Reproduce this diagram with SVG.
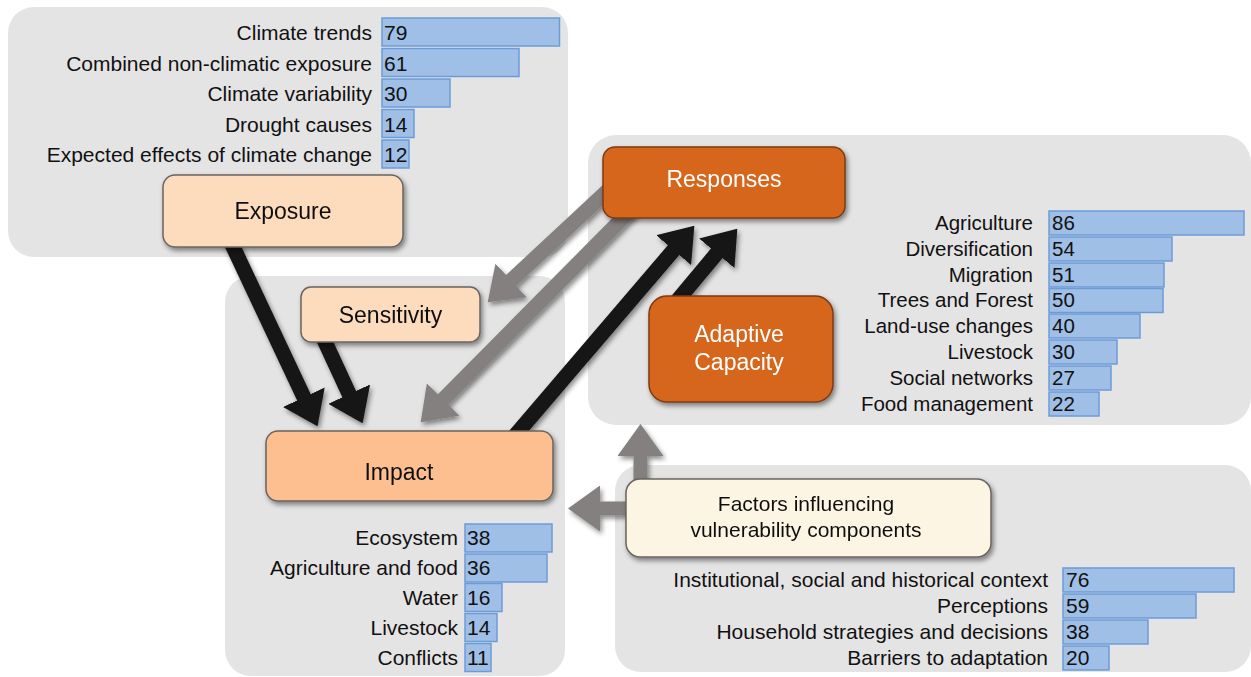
<svg xmlns="http://www.w3.org/2000/svg" width="1251" height="677" viewBox="0 0 1251 677">
<defs>
<style>
.panel{fill:#e5e4e5}
.bar{fill:#a0bfe6;stroke:#6c9cd8;stroke-width:1.5}
.lbl{font-family:"Liberation Sans",Arial,sans-serif;font-size:21px;fill:#111;text-anchor:end}
.lbl20{font-family:"Liberation Sans",Arial,sans-serif;font-size:20.5px;fill:#111;text-anchor:end}
.num{font-family:"Liberation Sans",Arial,sans-serif;font-size:21px;fill:#111}
.num20{font-family:"Liberation Sans",Arial,sans-serif;font-size:20.5px;fill:#111}
.node{stroke:#6a6460;stroke-width:1.5}
.light{fill:#fddbbd}
.impact{fill:#fdbf8f}
.dark{fill:#d6661d;stroke:#7c3b12}
.cream{fill:#fdf5e3}
.nt{font-family:"Liberation Sans",Arial,sans-serif;font-size:23px;fill:#111;text-anchor:middle}
.ntw{font-family:"Liberation Sans",Arial,sans-serif;font-size:23px;fill:#fff;text-anchor:middle}
.nt21{font-family:"Liberation Sans",Arial,sans-serif;font-size:21px;fill:#111;text-anchor:middle}
.blk{stroke:#141414;stroke-width:15;fill:none;marker-end:url(#hb)}
.gry{stroke:#858080;stroke-width:15;fill:none;marker-end:url(#hg)}
</style>
<marker id="hb" markerUnits="userSpaceOnUse" viewBox="0 0 32 46" markerWidth="32" markerHeight="46" refX="1" refY="23" orient="auto"><path d="M0,0 L32,23 L0,46 z" fill="#141414"/></marker>
<marker id="hg" markerUnits="userSpaceOnUse" viewBox="0 0 32 46" markerWidth="32" markerHeight="46" refX="1" refY="23" orient="auto"><path d="M0,0 L32,23 L0,46 z" fill="#858080"/></marker>
<filter id="sh" x="-20%" y="-20%" width="140%" height="140%"><feDropShadow dx="2" dy="3" stdDeviation="2.5" flood-color="#000" flood-opacity="0.45"/></filter>
</defs>
<rect width="1251" height="677" fill="#fff"/>

<g id="panels">
<rect class="panel" x="8" y="7" width="560" height="250" rx="26"/>
<rect class="panel" x="225" y="276" width="340" height="400" rx="26"/>
<rect class="panel" x="588" y="135" width="663" height="290" rx="28"/>
<rect class="panel" x="615" y="465" width="636" height="207" rx="26"/>
</g>

<g id="exposure-list">
<rect class="bar" x="382" y="18" width="177.5" height="28"/>
<rect class="bar" x="382" y="48.5" width="137" height="28"/>
<rect class="bar" x="382" y="79" width="68" height="28"/>
<rect class="bar" x="382" y="109.5" width="32" height="28"/>
<rect class="bar" x="382" y="140" width="27" height="28"/>
<text class="lbl" x="372" y="40">Climate trends</text>
<text class="lbl" x="372" y="70.5">Combined non-climatic exposure</text>
<text class="lbl" x="372" y="101">Climate variability</text>
<text class="lbl" x="372" y="131.5">Drought causes</text>
<text class="lbl" x="372" y="162">Expected effects of climate change</text>
<text class="num" x="384" y="40">79</text>
<text class="num" x="384" y="70.5">61</text>
<text class="num" x="384" y="101">30</text>
<text class="num" x="384" y="131.5">14</text>
<text class="num" x="384" y="162">12</text>
</g>

<g id="responses-list">
<rect class="bar" x="1049" y="211" width="195" height="24"/>
<rect class="bar" x="1049" y="237" width="123" height="24"/>
<rect class="bar" x="1049" y="263" width="115" height="24"/>
<rect class="bar" x="1049" y="288.5" width="114" height="24"/>
<rect class="bar" x="1049" y="314" width="91" height="24"/>
<rect class="bar" x="1049" y="340" width="68" height="24"/>
<rect class="bar" x="1049" y="366" width="62" height="24"/>
<rect class="bar" x="1049" y="392" width="50" height="24"/>
<text class="lbl20" x="1033" y="229.5">Agriculture</text>
<text class="lbl20" x="1033" y="255.5">Diversification</text>
<text class="lbl20" x="1033" y="281.5">Migration</text>
<text class="lbl20" x="1033" y="307">Trees and Forest</text>
<text class="lbl20" x="1033" y="332.5">Land-use changes</text>
<text class="lbl20" x="1033" y="358.5">Livestock</text>
<text class="lbl20" x="1033" y="384.5">Social networks</text>
<text class="lbl20" x="1033" y="410.5">Food management</text>
<text class="num20" x="1052" y="229.5">86</text>
<text class="num20" x="1052" y="255.5">54</text>
<text class="num20" x="1052" y="281.5">51</text>
<text class="num20" x="1052" y="307">50</text>
<text class="num20" x="1052" y="332.5">40</text>
<text class="num20" x="1052" y="358.5">30</text>
<text class="num20" x="1052" y="384.5">27</text>
<text class="num20" x="1052" y="410.5">22</text>
</g>

<g id="impact-list">
<rect class="bar" x="465" y="524" width="87" height="28"/>
<rect class="bar" x="465" y="554" width="82" height="28"/>
<rect class="bar" x="465" y="583.5" width="37" height="28"/>
<rect class="bar" x="465" y="613.5" width="32" height="28"/>
<rect class="bar" x="465" y="643.5" width="26" height="28"/>
<text class="lbl" x="458" y="545">Ecosystem</text>
<text class="lbl" x="458" y="575">Agriculture and food</text>
<text class="lbl" x="458" y="604.5">Water</text>
<text class="lbl" x="458" y="634.5">Livestock</text>
<text class="lbl" x="458" y="664.5">Conflicts</text>
<text class="num" x="467" y="545">38</text>
<text class="num" x="467" y="575">36</text>
<text class="num" x="467" y="604.5">16</text>
<text class="num" x="467" y="634.5">14</text>
<text class="num" x="467" y="664.5">11</text>
</g>

<g id="factors-list">
<rect class="bar" x="1063" y="568" width="171" height="24"/>
<rect class="bar" x="1063" y="594" width="133" height="24"/>
<rect class="bar" x="1063" y="620" width="85" height="24"/>
<rect class="bar" x="1063" y="646" width="46" height="24"/>
<text class="lbl" x="1048" y="587">Institutional, social and historical context</text>
<text class="lbl" x="1048" y="613">Perceptions</text>
<text class="lbl" x="1048" y="639">Household strategies and decisions</text>
<text class="lbl" x="1048" y="665">Barriers to adaptation</text>
<text class="num" x="1066" y="587">76</text>
<text class="num" x="1066" y="613">59</text>
<text class="num" x="1066" y="639">38</text>
<text class="num" x="1066" y="665">20</text>
</g>

<g id="connectors" filter="url(#sh)">
<line class="blk" x1="228" y1="236" x2="304.3" y2="398.1"/>
<line class="blk" x1="320" y1="331" x2="349.6" y2="395"/>
<line class="gry" x1="613" y1="185.8" x2="510.4" y2="281.2"/>
<line class="gry" x1="631.4" y1="209.5" x2="442.5" y2="400.3"/>
<line class="blk" x1="512.8" y1="438.1" x2="674.2" y2="249.3"/>
<line class="blk" x1="674.6" y1="303.7" x2="717.4" y2="252.5"/>
<line class="gry" style="stroke-width:14" x1="640.5" y1="495" x2="640.5" y2="455"/>
<line class="gry" style="stroke-width:14" x1="645" y1="508.5" x2="599" y2="508.5"/>
</g>

<g id="node-exposure" filter="url(#sh)">
<rect class="node light" x="163" y="175" width="240" height="72" rx="12"/>
<text class="nt" x="283" y="219">Exposure</text>
</g>
<g id="node-sensitivity" filter="url(#sh)">
<rect class="node light" x="301" y="287" width="179" height="55" rx="10"/>
<text class="nt" x="390.5" y="323">Sensitivity</text>
</g>
<g id="node-impact" filter="url(#sh)">
<rect class="node impact" x="266" y="431" width="287" height="70" rx="12"/>
<text class="nt" x="399" y="480">Impact</text>
</g>
<g id="node-responses" filter="url(#sh)">
<rect class="node dark" x="603" y="147" width="242" height="71" rx="12"/>
<text class="ntw" x="724" y="187">Responses</text>
</g>
<g id="node-adaptive" filter="url(#sh)">
<rect class="node dark" x="649" y="296" width="184" height="106" rx="18"/>
<text class="ntw" x="739" y="342">Adaptive</text>
<text class="ntw" x="739" y="370">Capacity</text>
</g>
<g id="node-factors" filter="url(#sh)">
<rect class="node cream" x="626" y="479" width="365" height="78" rx="14"/>
<text class="nt21" x="806" y="511">Factors influencing</text>
<text class="nt21" x="806" y="537">vulnerability components</text>
</g>
</svg>
